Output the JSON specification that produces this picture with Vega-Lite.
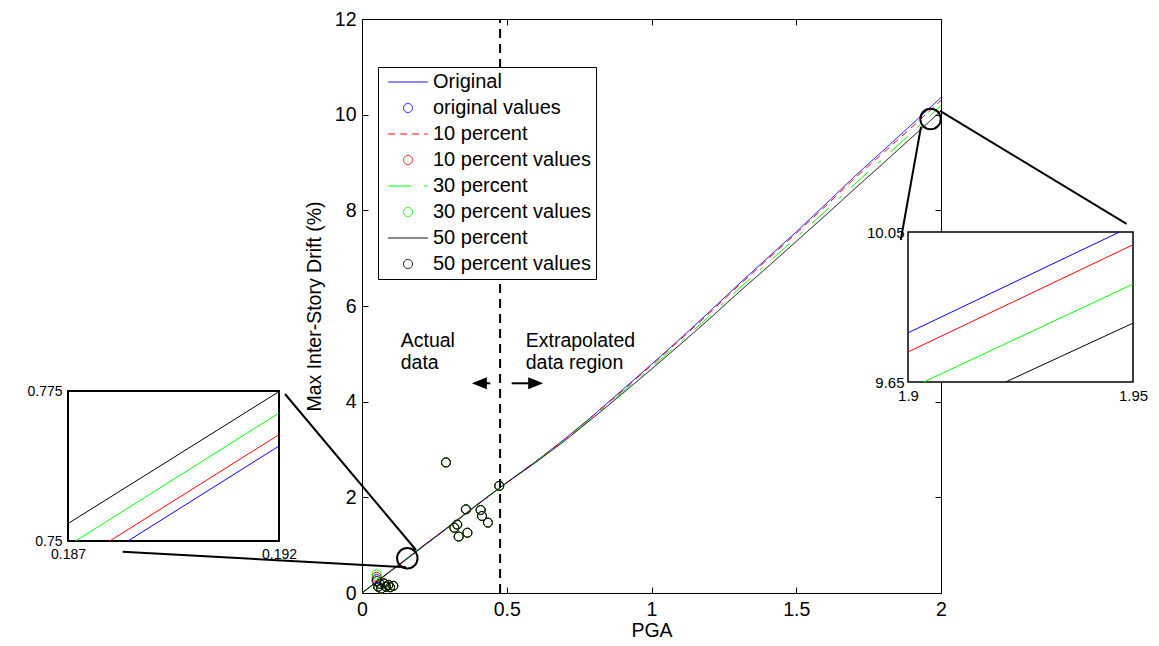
{
  "$schema": "https://vega.github.io/schema/vega-lite/v6.json",
  "width": 1159,
  "height": 646,
  "autosize": {"type": "none"},
  "padding": 0,
  "background": "white",
  "config": {
    "view": {"stroke": null},
    "font": "Liberation Sans",
    "axis": {"grid": false, "labelFont": "Liberation Sans", "labelFontSize": 19.5, "labelColor": "black", "titleFont": "Liberation Sans", "titleFontSize": 19.5, "titleFontWeight": "normal", "titleColor": "black", "domainColor": "black", "tickColor": "black", "labelFlush": false, "labelOverlap": false, "labelBound": false, "domainWidth": 1, "tickWidth": 1}
  },
  "resolve": {"scale": {"x": "independent", "y": "independent"}, "axis": {"x": "independent", "y": "independent"}},
  "layer": [
    {
      "resolve": {"axis": {"x": "independent", "y": "independent"}},
      "layer": [
        {
          "data": {"values": [
            {"series": "Original", "pga": 0, "drift": 0}, {"series": "Original", "pga": 0.05, "drift": 0.23}, {"series": "Original", "pga": 0.1, "drift": 0.46}, {"series": "Original", "pga": 0.16, "drift": 0.73}, {"series": "Original", "pga": 0.2, "drift": 0.92}, {"series": "Original", "pga": 0.3, "drift": 1.38}, {"series": "Original", "pga": 0.4, "drift": 1.85}, {"series": "Original", "pga": 0.48, "drift": 2.22}, {"series": "Original", "pga": 0.6, "drift": 2.75}, {"series": "Original", "pga": 0.7, "drift": 3.22}, {"series": "Original", "pga": 0.8, "drift": 3.72}, {"series": "Original", "pga": 0.9, "drift": 4.25}, {"series": "Original", "pga": 1.0, "drift": 4.78}, {"series": "Original", "pga": 1.1, "drift": 5.32}, {"series": "Original", "pga": 1.2, "drift": 5.88}, {"series": "Original", "pga": 1.3, "drift": 6.45}, {"series": "Original", "pga": 1.4, "drift": 7.0}, {"series": "Original", "pga": 1.5, "drift": 7.55}, {"series": "Original", "pga": 1.6, "drift": 8.12}, {"series": "Original", "pga": 1.7, "drift": 8.7}, {"series": "Original", "pga": 1.8, "drift": 9.25}, {"series": "Original", "pga": 1.9, "drift": 9.8}, {"series": "Original", "pga": 1.95, "drift": 10.08}, {"series": "Original", "pga": 2.0, "drift": 10.36},
            {"series": "10 percent", "pga": 0, "drift": 0}, {"series": "10 percent", "pga": 0.05, "drift": 0.23}, {"series": "10 percent", "pga": 0.1, "drift": 0.46}, {"series": "10 percent", "pga": 0.16, "drift": 0.735}, {"series": "10 percent", "pga": 0.2, "drift": 0.925}, {"series": "10 percent", "pga": 0.3, "drift": 1.38}, {"series": "10 percent", "pga": 0.4, "drift": 1.85}, {"series": "10 percent", "pga": 0.48, "drift": 2.22}, {"series": "10 percent", "pga": 0.6, "drift": 2.75}, {"series": "10 percent", "pga": 0.7, "drift": 3.21}, {"series": "10 percent", "pga": 0.8, "drift": 3.71}, {"series": "10 percent", "pga": 0.9, "drift": 4.23}, {"series": "10 percent", "pga": 1.0, "drift": 4.76}, {"series": "10 percent", "pga": 1.1, "drift": 5.3}, {"series": "10 percent", "pga": 1.2, "drift": 5.85}, {"series": "10 percent", "pga": 1.3, "drift": 6.42}, {"series": "10 percent", "pga": 1.4, "drift": 6.97}, {"series": "10 percent", "pga": 1.5, "drift": 7.52}, {"series": "10 percent", "pga": 1.6, "drift": 8.08}, {"series": "10 percent", "pga": 1.7, "drift": 8.66}, {"series": "10 percent", "pga": 1.8, "drift": 9.2}, {"series": "10 percent", "pga": 1.9, "drift": 9.74}, {"series": "10 percent", "pga": 1.95, "drift": 10.02}, {"series": "10 percent", "pga": 2.0, "drift": 10.3},
            {"series": "30 percent", "pga": 0, "drift": 0}, {"series": "30 percent", "pga": 0.05, "drift": 0.23}, {"series": "30 percent", "pga": 0.1, "drift": 0.465}, {"series": "30 percent", "pga": 0.16, "drift": 0.74}, {"series": "30 percent", "pga": 0.2, "drift": 0.93}, {"series": "30 percent", "pga": 0.3, "drift": 1.39}, {"series": "30 percent", "pga": 0.4, "drift": 1.86}, {"series": "30 percent", "pga": 0.48, "drift": 2.22}, {"series": "30 percent", "pga": 0.6, "drift": 2.74}, {"series": "30 percent", "pga": 0.7, "drift": 3.2}, {"series": "30 percent", "pga": 0.8, "drift": 3.69}, {"series": "30 percent", "pga": 0.9, "drift": 4.2}, {"series": "30 percent", "pga": 1.0, "drift": 4.72}, {"series": "30 percent", "pga": 1.1, "drift": 5.25}, {"series": "30 percent", "pga": 1.2, "drift": 5.79}, {"series": "30 percent", "pga": 1.3, "drift": 6.35}, {"series": "30 percent", "pga": 1.4, "drift": 6.89}, {"series": "30 percent", "pga": 1.5, "drift": 7.43}, {"series": "30 percent", "pga": 1.6, "drift": 7.98}, {"series": "30 percent", "pga": 1.7, "drift": 8.54}, {"series": "30 percent", "pga": 1.8, "drift": 9.08}, {"series": "30 percent", "pga": 1.9, "drift": 9.63}, {"series": "30 percent", "pga": 1.95, "drift": 9.91}, {"series": "30 percent", "pga": 2.0, "drift": 10.19},
            {"series": "50 percent", "pga": 0, "drift": 0}, {"series": "50 percent", "pga": 0.05, "drift": 0.235}, {"series": "50 percent", "pga": 0.1, "drift": 0.47}, {"series": "50 percent", "pga": 0.16, "drift": 0.745}, {"series": "50 percent", "pga": 0.2, "drift": 0.935}, {"series": "50 percent", "pga": 0.3, "drift": 1.39}, {"series": "50 percent", "pga": 0.4, "drift": 1.86}, {"series": "50 percent", "pga": 0.48, "drift": 2.22}, {"series": "50 percent", "pga": 0.6, "drift": 2.73}, {"series": "50 percent", "pga": 0.7, "drift": 3.18}, {"series": "50 percent", "pga": 0.8, "drift": 3.67}, {"series": "50 percent", "pga": 0.9, "drift": 4.17}, {"series": "50 percent", "pga": 1.0, "drift": 4.68}, {"series": "50 percent", "pga": 1.1, "drift": 5.2}, {"series": "50 percent", "pga": 1.2, "drift": 5.73}, {"series": "50 percent", "pga": 1.3, "drift": 6.28}, {"series": "50 percent", "pga": 1.4, "drift": 6.81}, {"series": "50 percent", "pga": 1.5, "drift": 7.35}, {"series": "50 percent", "pga": 1.6, "drift": 7.89}, {"series": "50 percent", "pga": 1.7, "drift": 8.44}, {"series": "50 percent", "pga": 1.8, "drift": 8.98}, {"series": "50 percent", "pga": 1.9, "drift": 9.53}, {"series": "50 percent", "pga": 1.95, "drift": 9.8}, {"series": "50 percent", "pga": 2.0, "drift": 10.08}
          ]},
          "mark": {"type": "line", "strokeWidth": 1},
          "encoding": {
            "x": {"field": "pga", "type": "quantitative", "scale": {"domain": [0, 2], "range": [362, 941], "nice": false, "zero": false}, "axis": {"orient": "bottom", "offset": -53, "values": [0, 0.5, 1, 1.5, 2], "format": "~g", "ticks": false, "labelPadding": 7, "title": "PGA", "titlePadding": 3}},
            "y": {"field": "drift", "type": "quantitative", "scale": {"domain": [0, 12], "range": [593, 19], "nice": false, "zero": false}, "axis": {"orient": "left", "offset": -362, "values": [0, 2, 4, 6, 8, 10, 12], "format": "~g", "ticks": false, "labelPadding": 6, "title": "Max Inter-Story Drift (%)", "titlePadding": 10}},
            "color": {"field": "series", "type": "nominal", "scale": {"domain": ["Original", "original values", "10 percent", "10 percent values", "30 percent", "30 percent values", "50 percent", "50 percent values"], "range": ["#0000ff", "#0000ff", "#ff0000", "#ff0000", "#00ff00", "#00ff00", "#000000", "#000000"]}, "legend": {"title": null, "orient": "none", "legendX": 378, "legendY": 67, "padding": 5, "strokeColor": "black", "fillColor": "white", "labelFontSize": 20, "labelFont": "Liberation Sans", "labelColor": "black", "labelOffset": 15, "rowPadding": 6, "symbolOffset": 15, "symbolSize": 81, "symbolStrokeWidth": 1, "labelLimit": 400, "cornerRadius": 0}},
            "strokeDash": {"field": "series", "type": "nominal", "scale": {"domain": ["Original", "original values", "10 percent", "10 percent values", "30 percent", "30 percent values", "50 percent", "50 percent values"], "range": [[1, 0], [1, 0], [7, 5], [1, 0], [23, 13, 4, 13], [1, 0], [1, 0], [1, 0]]}, "legend": {"title": null, "orient": "none", "legendX": 378, "legendY": 67, "padding": 5, "strokeColor": "black", "fillColor": "white", "labelFontSize": 20, "labelFont": "Liberation Sans", "labelColor": "black", "labelOffset": 15, "rowPadding": 6, "symbolOffset": 15, "symbolSize": 81, "symbolStrokeWidth": 1, "labelLimit": 400, "cornerRadius": 0}}
          }
        },
        {
          "data": {"values": [
            {"series": "original values", "pga": 0.0507, "drift": 0.29}, {"series": "original values", "pga": 0.29, "drift": 2.73}, {"series": "original values", "pga": 0.474, "drift": 2.24}, {"series": "original values", "pga": 0.359, "drift": 1.75}, {"series": "original values", "pga": 0.41, "drift": 1.735}, {"series": "original values", "pga": 0.4145, "drift": 1.61}, {"series": "original values", "pga": 0.435, "drift": 1.47}, {"series": "original values", "pga": 0.329, "drift": 1.43}, {"series": "original values", "pga": 0.319, "drift": 1.365}, {"series": "original values", "pga": 0.364, "drift": 1.26}, {"series": "original values", "pga": 0.334, "drift": 1.18}, {"series": "original values", "pga": 0.056, "drift": 0.13}, {"series": "original values", "pga": 0.062, "drift": 0.19}, {"series": "original values", "pga": 0.066, "drift": 0.09}, {"series": "original values", "pga": 0.076, "drift": 0.2}, {"series": "original values", "pga": 0.083, "drift": 0.13}, {"series": "original values", "pga": 0.091, "drift": 0.17}, {"series": "original values", "pga": 0.097, "drift": 0.12}, {"series": "original values", "pga": 0.108, "drift": 0.15},
            {"series": "10 percent values", "pga": 0.0507, "drift": 0.34}, {"series": "10 percent values", "pga": 0.29, "drift": 2.73}, {"series": "10 percent values", "pga": 0.474, "drift": 2.24}, {"series": "10 percent values", "pga": 0.359, "drift": 1.75}, {"series": "10 percent values", "pga": 0.41, "drift": 1.735}, {"series": "10 percent values", "pga": 0.4145, "drift": 1.61}, {"series": "10 percent values", "pga": 0.435, "drift": 1.47}, {"series": "10 percent values", "pga": 0.329, "drift": 1.43}, {"series": "10 percent values", "pga": 0.319, "drift": 1.365}, {"series": "10 percent values", "pga": 0.364, "drift": 1.26}, {"series": "10 percent values", "pga": 0.334, "drift": 1.18}, {"series": "10 percent values", "pga": 0.056, "drift": 0.13}, {"series": "10 percent values", "pga": 0.062, "drift": 0.19}, {"series": "10 percent values", "pga": 0.066, "drift": 0.09}, {"series": "10 percent values", "pga": 0.076, "drift": 0.2}, {"series": "10 percent values", "pga": 0.083, "drift": 0.13}, {"series": "10 percent values", "pga": 0.091, "drift": 0.17}, {"series": "10 percent values", "pga": 0.097, "drift": 0.12}, {"series": "10 percent values", "pga": 0.108, "drift": 0.15},
            {"series": "30 percent values", "pga": 0.0507, "drift": 0.39}, {"series": "30 percent values", "pga": 0.29, "drift": 2.73}, {"series": "30 percent values", "pga": 0.474, "drift": 2.24}, {"series": "30 percent values", "pga": 0.359, "drift": 1.75}, {"series": "30 percent values", "pga": 0.41, "drift": 1.735}, {"series": "30 percent values", "pga": 0.4145, "drift": 1.61}, {"series": "30 percent values", "pga": 0.435, "drift": 1.47}, {"series": "30 percent values", "pga": 0.329, "drift": 1.43}, {"series": "30 percent values", "pga": 0.319, "drift": 1.365}, {"series": "30 percent values", "pga": 0.364, "drift": 1.26}, {"series": "30 percent values", "pga": 0.334, "drift": 1.18}, {"series": "30 percent values", "pga": 0.056, "drift": 0.13}, {"series": "30 percent values", "pga": 0.062, "drift": 0.19}, {"series": "30 percent values", "pga": 0.066, "drift": 0.09}, {"series": "30 percent values", "pga": 0.076, "drift": 0.2}, {"series": "30 percent values", "pga": 0.083, "drift": 0.13}, {"series": "30 percent values", "pga": 0.091, "drift": 0.17}, {"series": "30 percent values", "pga": 0.097, "drift": 0.12}, {"series": "30 percent values", "pga": 0.108, "drift": 0.15},
            {"series": "50 percent values", "pga": 0.0507, "drift": 0.25}, {"series": "50 percent values", "pga": 0.29, "drift": 2.73}, {"series": "50 percent values", "pga": 0.474, "drift": 2.24}, {"series": "50 percent values", "pga": 0.359, "drift": 1.75}, {"series": "50 percent values", "pga": 0.41, "drift": 1.735}, {"series": "50 percent values", "pga": 0.4145, "drift": 1.61}, {"series": "50 percent values", "pga": 0.435, "drift": 1.47}, {"series": "50 percent values", "pga": 0.329, "drift": 1.43}, {"series": "50 percent values", "pga": 0.319, "drift": 1.365}, {"series": "50 percent values", "pga": 0.364, "drift": 1.26}, {"series": "50 percent values", "pga": 0.334, "drift": 1.18}, {"series": "50 percent values", "pga": 0.056, "drift": 0.13}, {"series": "50 percent values", "pga": 0.062, "drift": 0.19}, {"series": "50 percent values", "pga": 0.066, "drift": 0.09}, {"series": "50 percent values", "pga": 0.076, "drift": 0.2}, {"series": "50 percent values", "pga": 0.083, "drift": 0.13}, {"series": "50 percent values", "pga": 0.091, "drift": 0.17}, {"series": "50 percent values", "pga": 0.097, "drift": 0.12}, {"series": "50 percent values", "pga": 0.108, "drift": 0.15}
          ]},
          "mark": {"type": "point", "filled": false, "strokeWidth": 1, "opacity": 1, "size": 81},
          "encoding": {
            "x": {"field": "pga", "type": "quantitative", "axis": {"orient": "top", "offset": -19, "values": [0, 0.5, 1, 1.5, 2], "labels": false, "tickSize": -6, "title": null}},
            "y": {"field": "drift", "type": "quantitative", "axis": {"orient": "right", "offset": -218, "values": [0, 2, 4, 6, 8, 10, 12], "labels": false, "tickSize": -6, "title": null}},
            "color": {"field": "series", "type": "nominal", "scale": {"domain": ["Original", "original values", "10 percent", "10 percent values", "30 percent", "30 percent values", "50 percent", "50 percent values"], "range": ["#0000ff", "#0000ff", "#ff0000", "#ff0000", "#00ff00", "#00ff00", "#000000", "#000000"]}, "legend": {"title": null, "orient": "none", "legendX": 378, "legendY": 67, "padding": 5, "strokeColor": "black", "fillColor": "white", "labelFontSize": 20, "labelFont": "Liberation Sans", "labelColor": "black", "labelOffset": 15, "rowPadding": 6, "symbolOffset": 15, "symbolSize": 81, "symbolStrokeWidth": 1, "labelLimit": 400, "cornerRadius": 0}},
            "shape": {"field": "series", "type": "nominal", "scale": {"domain": ["Original", "original values", "10 percent", "10 percent values", "30 percent", "30 percent values", "50 percent", "50 percent values"], "range": ["M -4.4 0 L 4.4 0", "circle", "M -4.4 0 L 4.4 0", "circle", "M -4.4 0 L 4.4 0", "circle", "M -4.4 0 L 4.4 0", "circle"]}, "legend": {"title": null, "orient": "none", "legendX": 378, "legendY": 67, "padding": 5, "strokeColor": "black", "fillColor": "white", "labelFontSize": 20, "labelFont": "Liberation Sans", "labelColor": "black", "labelOffset": 15, "rowPadding": 6, "symbolOffset": 15, "symbolSize": 81, "symbolStrokeWidth": 1, "labelLimit": 400, "cornerRadius": 0}}
          }
        },
        {
          "data": {"values": [{"pga": 0.477, "lo": 0, "hi": 12}]},
          "mark": {"type": "rule", "strokeDash": [9, 6], "strokeWidth": 2, "color": "black"},
          "encoding": {
            "x": {"field": "pga", "type": "quantitative", "axis": {"orient": "bottom", "offset": -53, "values": [0, 0.5, 1, 1.5, 2], "labels": false, "domain": false, "tickSize": -6, "title": null}},
            "y": {"field": "lo", "type": "quantitative", "axis": {"orient": "left", "offset": -362, "values": [0, 2, 4, 6, 8, 10, 12], "labels": false, "domain": false, "tickSize": -6, "title": null}},
            "y2": {"field": "hi"}
          }
        },
        {
          "data": {"values": [{"pga": 0.1337, "drift": 5.15, "label": "Actual\ndata"}, {"pga": 0.5655, "drift": 5.15, "label": "Extrapolated\ndata region"}]},
          "mark": {"type": "text", "align": "left", "baseline": "alphabetic", "fontSize": 19.5, "font": "Liberation Sans", "lineBreak": "\n", "lineHeight": 22, "color": "black"},
          "encoding": {
            "x": {"field": "pga", "type": "quantitative", "axis": null},
            "y": {"field": "drift", "type": "quantitative", "axis": null},
            "text": {"field": "label"}
          }
        },
        {
          "data": {"values": [{"pga": 0.426, "pga2": 0.443, "drift": 4.384}, {"pga": 0.517, "pga2": 0.575, "drift": 4.384}]},
          "mark": {"type": "rule", "strokeWidth": 2, "color": "black"},
          "encoding": {
            "x": {"field": "pga", "type": "quantitative", "axis": null},
            "x2": {"field": "pga2"},
            "y": {"field": "drift", "type": "quantitative", "axis": null}
          }
        },
        {
          "data": {"values": [{"pga": 0.4055, "drift": 4.384}]},
          "mark": {"type": "point", "shape": "M -1 0 L 1 -0.8 L 1 0.8 Z", "size": 225, "filled": true, "color": "black", "opacity": 1},
          "encoding": {
            "x": {"field": "pga", "type": "quantitative", "axis": null},
            "y": {"field": "drift", "type": "quantitative", "axis": null}
          }
        },
        {
          "data": {"values": [{"pga": 0.6, "drift": 4.384}]},
          "mark": {"type": "point", "shape": "M 1 0 L -1 -0.8 L -1 0.8 Z", "size": 225, "filled": true, "color": "black", "opacity": 1},
          "encoding": {
            "x": {"field": "pga", "type": "quantitative", "axis": null},
            "y": {"field": "drift", "type": "quantitative", "axis": null}
          }
        },
        {
          "data": {"values": [{"pga": 0.1565, "drift": 0.725}, {"pga": 1.964, "drift": 9.91}]},
          "mark": {"type": "point", "shape": "circle", "size": 420, "filled": false, "strokeWidth": 2, "color": "black", "opacity": 1},
          "encoding": {
            "x": {"field": "pga", "type": "quantitative", "axis": null},
            "y": {"field": "drift", "type": "quantitative", "axis": null}
          }
        },
        {
          "data": {"values": [
            {"pga": -0.266, "drift": 4.16, "pga2": 0.1865, "drift2": 0.899},
            {"pga": -0.8266, "drift": 0.863, "pga2": 0.152, "drift2": 0.537},
            {"pga": 1.9965, "drift": 10.08, "pga2": 2.641, "drift2": 7.715},
            {"pga": 1.931, "drift": 9.749, "pga2": 1.861, "drift2": 7.38}
          ]},
          "mark": {"type": "rule", "strokeWidth": 2, "color": "black"},
          "encoding": {
            "x": {"field": "pga", "type": "quantitative", "axis": null},
            "x2": {"field": "pga2"},
            "y": {"field": "drift", "type": "quantitative", "axis": null},
            "y2": {"field": "drift2"}
          }
        }
      ]
    },
    {
      "resolve": {"axis": {"x": "independent", "y": "independent"}},
      "layer": [
        {
          "data": {"values": [{"a": 0.187, "b": 0.192, "c": 0.75, "d": 0.775}]},
          "mark": {"type": "rect", "fill": "white", "stroke": "black", "strokeWidth": 2},
          "encoding": {
            "x": {"field": "a", "type": "quantitative", "scale": {"domain": [0.187, 0.192], "range": [68, 279], "nice": false, "zero": false}, "axis": {"orient": "bottom", "offset": -105, "values": [0.187, 0.192], "format": ".3f", "ticks": false, "domain": false, "labelPadding": 6, "labelFontSize": 14, "title": null}},
            "x2": {"field": "b"},
            "y": {"field": "c", "type": "quantitative", "scale": {"domain": [0.75, 0.775], "range": [541, 391], "nice": false, "zero": false}, "axis": {"orient": "left", "offset": -68, "values": [0.75, 0.775], "format": ".3~f", "ticks": false, "domain": false, "labelPadding": 6, "labelFontSize": 14, "title": null}},
            "y2": {"field": "d"}
          }
        },
        {
          "data": {"values": [
            {"series": "Original", "pga": 0.18842, "drift": 0.75}, {"series": "Original", "pga": 0.192, "drift": 0.76583},
            {"series": "10 percent", "pga": 0.18799, "drift": 0.75}, {"series": "10 percent", "pga": 0.192, "drift": 0.76772},
            {"series": "30 percent", "pga": 0.18718, "drift": 0.75}, {"series": "30 percent", "pga": 0.192, "drift": 0.77133},
            {"series": "50 percent", "pga": 0.187, "drift": 0.7529}, {"series": "50 percent", "pga": 0.192, "drift": 0.7749}
          ]},
          "mark": {"type": "line", "strokeWidth": 1},
          "encoding": {
            "x": {"field": "pga", "type": "quantitative", "axis": null},
            "y": {"field": "drift", "type": "quantitative", "axis": null},
            "color": {"field": "series", "type": "nominal", "scale": {"domain": ["Original", "original values", "10 percent", "10 percent values", "30 percent", "30 percent values", "50 percent", "50 percent values"], "range": ["#0000ff", "#0000ff", "#ff0000", "#ff0000", "#00ff00", "#00ff00", "#000000", "#000000"]}, "legend": {"title": null, "orient": "none", "legendX": 378, "legendY": 67, "padding": 5, "strokeColor": "black", "fillColor": "white", "labelFontSize": 20, "labelFont": "Liberation Sans", "labelColor": "black", "labelOffset": 15, "rowPadding": 6, "symbolOffset": 15, "symbolSize": 81, "symbolStrokeWidth": 1, "labelLimit": 400, "cornerRadius": 0}}
          }
        }
      ]
    },
    {
      "resolve": {"axis": {"x": "independent", "y": "independent"}},
      "layer": [
        {
          "data": {"values": [{"a": 1.9, "b": 1.95, "c": 9.65, "d": 10.05}]},
          "mark": {"type": "rect", "fill": "white", "stroke": "black", "strokeWidth": 1.5},
          "encoding": {
            "x": {"field": "a", "type": "quantitative", "scale": {"domain": [1.9, 1.95], "range": [908, 1133], "nice": false, "zero": false}, "axis": {"orient": "bottom", "offset": -264, "values": [1.9, 1.95], "format": ".2~f", "ticks": false, "domain": false, "labelPadding": 6, "labelFontSize": 15, "title": null}},
            "x2": {"field": "b"},
            "y": {"field": "c", "type": "quantitative", "scale": {"domain": [9.65, 10.05], "range": [382, 232], "nice": false, "zero": false}, "axis": {"orient": "left", "offset": -908, "values": [9.65, 10.05], "format": ".2f", "ticks": false, "domain": false, "labelPadding": 4, "labelFontSize": 15, "title": null}},
            "y2": {"field": "d"}
          }
        },
        {
          "data": {"values": [
            {"series": "Original", "pga": 1.9, "drift": 9.781}, {"series": "Original", "pga": 1.947, "drift": 10.05},
            {"series": "10 percent", "pga": 1.9, "drift": 9.73}, {"series": "10 percent", "pga": 1.95, "drift": 10.016},
            {"series": "30 percent", "pga": 1.9035, "drift": 9.65}, {"series": "30 percent", "pga": 1.95, "drift": 9.911},
            {"series": "50 percent", "pga": 1.9217, "drift": 9.65}, {"series": "50 percent", "pga": 1.95, "drift": 9.807}
          ]},
          "mark": {"type": "line", "strokeWidth": 1},
          "encoding": {
            "x": {"field": "pga", "type": "quantitative", "axis": null},
            "y": {"field": "drift", "type": "quantitative", "axis": null},
            "color": {"field": "series", "type": "nominal", "scale": {"domain": ["Original", "original values", "10 percent", "10 percent values", "30 percent", "30 percent values", "50 percent", "50 percent values"], "range": ["#0000ff", "#0000ff", "#ff0000", "#ff0000", "#00ff00", "#00ff00", "#000000", "#000000"]}, "legend": {"title": null, "orient": "none", "legendX": 378, "legendY": 67, "padding": 5, "strokeColor": "black", "fillColor": "white", "labelFontSize": 20, "labelFont": "Liberation Sans", "labelColor": "black", "labelOffset": 15, "rowPadding": 6, "symbolOffset": 15, "symbolSize": 81, "symbolStrokeWidth": 1, "labelLimit": 400, "cornerRadius": 0}}
          }
        }
      ]
    }
  ]
}
